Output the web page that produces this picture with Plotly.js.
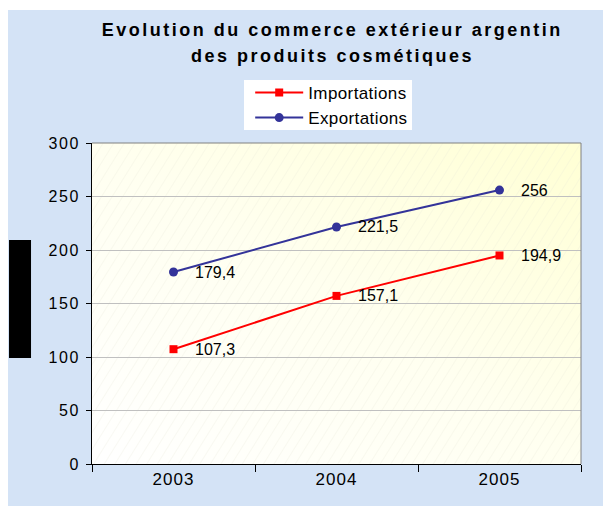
<!DOCTYPE html>
<html>
<head>
<meta charset="utf-8">
<script src="https://cdn.plot.ly/plotly-3.0.1.min.js"></script>
<style>
  html, body { margin: 0; padding: 0; background: #ffffff; }
  #chart { position: absolute; left: 8px; top: 10px; width: 595px; height: 496px; }
  .xtick text { letter-spacing: 1px; }
  .ytick text { letter-spacing: 1.5px; }
  .legendtext { letter-spacing: 0.4px; }
</style>
</head>
<body>
<div id="chart"></div>
<script>
// ---- data ----
const years = ['2003', '2004', '2005'];
const importations = [107.3, 157.1, 194.9];
const exportations = [179.4, 221.5, 256];
const seriesNames = ['Importations', 'Exportations'];
const yTicks = [0, 50, 100, 150, 200, 250, 300];
const titleLine1 = 'Evolution du commerce extérieur argentin';
const titleLine2 = 'des produits cosmétiques';

const FONT = 'Liberation Sans, Arial, sans-serif';
const fmt = v => String(v).replace('.', ',');

const traces = [
  {
    x: years, y: importations, name: seriesNames[0], type: 'scatter', mode: 'lines+markers',
    line: {color: '#ff0000', width: 2},
    marker: {symbol: 'square', size: 8, color: '#ff0000'}
  },
  {
    x: years, y: exportations, name: seriesNames[1], type: 'scatter', mode: 'lines+markers',
    line: {color: '#333399', width: 2},
    marker: {symbol: 'circle', size: 9, color: '#333399'}
  }
];

// value labels (category axis -> annotation x given as category index)
const labelAnn = [];
[importations, exportations].forEach(arr => {
  arr.forEach((v, i) => {
    labelAnn.push({
      x: i, y: v, xref: 'x', yref: 'y', text: fmt(v), showarrow: false,
      xanchor: 'left', yanchor: 'middle', xshift: 19, yshift: 0,
      font: {family: FONT, size: 16, color: '#000000'}
    });
  });
});

// plot background: gradient + faint diagonal hatch
const W = 489, H = 321;
const bgSvg =
  `<svg xmlns="http://www.w3.org/2000/svg" width="${W}" height="${H}" viewBox="0 0 ${W} ${H}" preserveAspectRatio="none">` +
  `<defs><linearGradient id="g" x1="0" y1="1" x2="1" y2="0">` +
  `<stop offset="0" stop-color="#ffffff"/><stop offset="0.5" stop-color="#fffff0"/><stop offset="1" stop-color="#ffffd4"/></linearGradient>` +
  `<pattern id="p" width="9" height="9" patternUnits="userSpaceOnUse" patternTransform="rotate(-58)">` +
  `<line x1="0" y1="0" x2="9" y2="0" stroke="#e6e6d6" stroke-width="1"/></pattern></defs>` +
  `<rect width="${W}" height="${H}" fill="url(#g)"/><rect width="${W}" height="${H}" fill="url(#p)" opacity="0.5"/></svg>`;

const layout = {
  width: 595, height: 496,
  margin: {l: 84, r: 22, t: 133, b: 42},
  paper_bgcolor: '#d4e3f6',
  plot_bgcolor: 'rgba(0,0,0,0)',
  font: {family: FONT, size: 15, color: '#000000'},
  title: {
    text: `<span style="letter-spacing:2.5px">${titleLine1}</span>`,
    font: {family: FONT, size: 18, color: '#000000', weight: 'bold'},
    x: 0.545, xanchor: 'center', xref: 'container',
    y: 0.961, yanchor: 'middle', yref: 'container'
  },
  showlegend: true,
  legend: {
    x: 0.3235, xanchor: 'left', y: 1.212, yanchor: 'top',
    bgcolor: 'rgba(0,0,0,0)', borderwidth: 0,
    font: {family: FONT, size: 17, color: '#000000'},
    itemwidth: 48,
    tracegroupgap: 0
  },
  xaxis: {
    type: 'category', range: [-0.5, 2.5],
    tickson: 'boundaries', ticks: 'outside', ticklen: 7, tickcolor: '#000000', tickwidth: 1,
    showline: true, linecolor: '#000000', linewidth: 1,
    showgrid: false, zeroline: false,
    tickfont: {family: FONT, size: 17, color: '#000000'}
  },
  yaxis: {
    range: [0, 300], tickvals: yTicks, ticktext: yTicks.map(String),
    ticks: 'outside', ticklen: 5, tickcolor: '#000000', tickwidth: 1,
    showline: true, linecolor: '#000000', linewidth: 1,
    showgrid: true, gridcolor: '#c0c0c0', gridwidth: 1, zeroline: false,
    tickfont: {family: FONT, size: 16, color: '#000000'},
    ticklabelstandoff: 3
  },
  images: [{
    source: 'data:image/svg+xml;charset=utf-8,' + encodeURIComponent(bgSvg),
    xref: 'paper', yref: 'paper', x: 0, y: 1, sizex: 1, sizey: 1,
    xanchor: 'left', yanchor: 'top', sizing: 'stretch', layer: 'below'
  }],
  shapes: [
    {type: 'line', xref: 'paper', yref: 'paper', x0: 0, x1: 1, y0: 1, y1: 1, line: {color: '#808080', width: 1}},
    {type: 'line', xref: 'paper', yref: 'paper', x0: 1, x1: 1, y0: 0, y1: 1, line: {color: '#808080', width: 1}},
    {type: 'rect', xref: 'paper', yref: 'paper', x0: -0.1697, x1: -0.1247, y0: 0.330, y1: 0.698,
     fillcolor: '#000000', line: {width: 0}},
    // white legend box
    {type: 'rect', xref: 'paper', yref: 'paper', x0: 0.3108, x1: 0.6544, y0: 1.0405, y1: 1.1963,
     fillcolor: '#ffffff', line: {width: 0}}
  ],
  annotations: [
    {
      text: `<span style="letter-spacing:2.5px">${titleLine2}</span>`,
      xref: 'paper', yref: 'paper', x: 0.491, y: 1.272, xanchor: 'center', yanchor: 'middle',
      showarrow: false, font: {family: FONT, size: 18, color: '#000000', weight: 'bold'}
    }
  ].concat(labelAnn)
};

Plotly.newPlot('chart', traces, layout, {displayModeBar: false, staticPlot: true});
</script>
</body>
</html>
